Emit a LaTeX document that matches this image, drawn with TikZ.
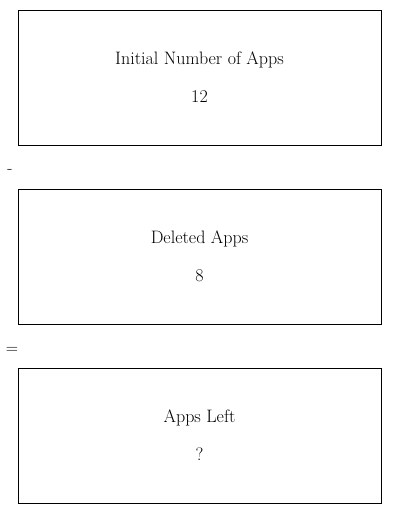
\documentclass[tikz,border=0pt]{standalone}
\usepackage{tikz}

\tikzset{
  appbox/.style={draw, line width=0.9pt, minimum width=363pt, minimum height=135pt,
    align=center, text depth=-2pt, font=\fontsize{18}{21}\selectfont},
  opsign/.style={font=\fontsize{17}{20}\selectfont}
}

\begin{document}
\begin{tikzpicture}[x=1pt,y=-1pt]
			\useasboundingbox (0,0) rectangle (400,514);
			% boxes
			\node[appbox] (initial) at (199.5,77.5) {Initial Number of Apps\\[17pt]12};
			\node[appbox] (deleted) at (199.5,256.5) {Deleted Apps\\[17pt]8};
			\node[appbox] (left) at (199.5,435.5) {Apps Left\\[17pt]?};
			% signs
			\node[opsign] (minus) at (10,171) {-};
			\node[opsign] (equals) at (12,350) {=};
		\end{tikzpicture}
\end{document}
